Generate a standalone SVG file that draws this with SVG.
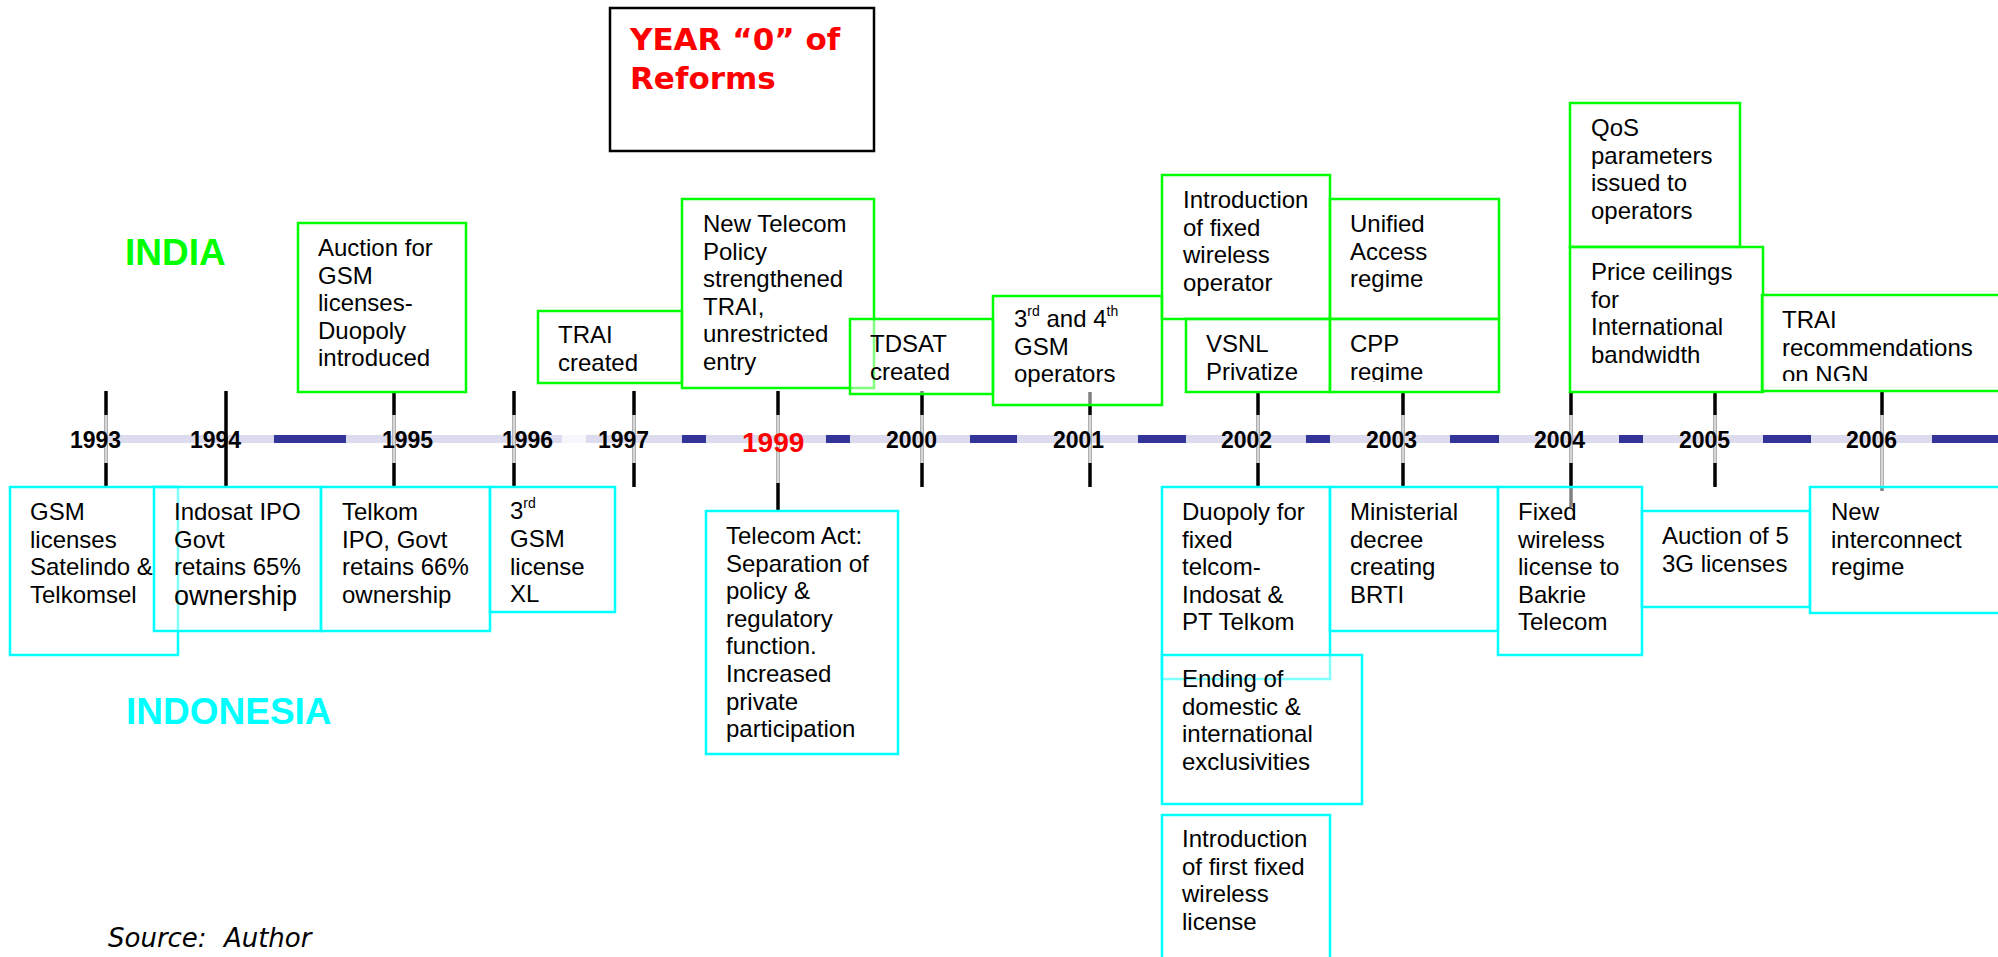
<svg xmlns="http://www.w3.org/2000/svg" width="1998" height="957" viewBox="0 0 1998 957">
<style>
.g{fill:#fff;fill-opacity:0.5;stroke:#00ff00;stroke-width:2.5}
.c{fill:#fff;fill-opacity:0.5;stroke:#00ffff;stroke-width:2.5}
.t{font-family:"Liberation Sans",Arial,sans-serif;font-size:24px;fill:#000}
.yr{font-family:"Liberation Sans",Arial,sans-serif;font-size:23px;font-weight:bold;fill:#000}
.tk{stroke:#000;stroke-width:3.5}
.tg{stroke:#d6d6d6;stroke-width:3.5}
.dash{fill:#333399}
.sup{font-size:14px}
</style>
<defs>
<clipPath id="clipCpp"><rect x="1330" y="319" width="170" height="63"/></clipPath>
<clipPath id="clipNgn"><rect x="1762" y="295" width="240" height="86"/></clipPath>
</defs>
<rect x="0" y="0" width="1998" height="957" fill="#fff"/>

<g id="timeline">
<rect x="106" y="435" width="1892" height="8" fill="#dcdcee"/>
<rect x="562" y="435" width="24" height="8" fill="#f7f7fb"/>
<rect class="dash" x="274" y="435" width="72" height="8"/>
<rect class="dash" x="682" y="435" width="24" height="8"/>
<rect class="dash" x="826" y="435" width="24" height="8"/>
<rect class="dash" x="970" y="435" width="47" height="8"/>
<rect class="dash" x="1138" y="435" width="48" height="8"/>
<rect class="dash" x="1306" y="435" width="24" height="8"/>
<rect class="dash" x="1450" y="435" width="49" height="8"/>
<rect class="dash" x="1619" y="435" width="24" height="8"/>
<rect class="dash" x="1763" y="435" width="48" height="8"/>
<rect class="dash" x="1932" y="435" width="66" height="8"/>
</g>

<g id="connectors">
<line class="tk" x1="106" y1="391" x2="106" y2="487"/><line class="tg" x1="106" y1="415" x2="106" y2="463"/>
<line class="tk" x1="394" y1="391" x2="394" y2="487"/><line class="tg" x1="394" y1="415" x2="394" y2="463"/>
<line class="tk" x1="514" y1="391" x2="514" y2="487"/><line class="tg" x1="514" y1="415" x2="514" y2="463"/>
<line class="tk" x1="634" y1="391" x2="634" y2="487"/><line class="tg" x1="634" y1="415" x2="634" y2="463"/>
<line class="tk" x1="778" y1="391" x2="778" y2="511"/><line class="tg" x1="778" y1="415" x2="778" y2="483"/>
<line class="tk" x1="922" y1="391" x2="922" y2="487"/><line class="tg" x1="922" y1="415" x2="922" y2="463"/>
<line class="tk" x1="1090" y1="392" x2="1090" y2="487"/><line class="tg" x1="1090" y1="415" x2="1090" y2="463"/>
<line class="tk" x1="1258" y1="391" x2="1258" y2="487"/><line class="tg" x1="1258" y1="415" x2="1258" y2="463"/>
<line class="tk" x1="1403" y1="391" x2="1403" y2="487"/><line class="tg" x1="1403" y1="415" x2="1403" y2="463"/>
<line class="tk" x1="1571" y1="391" x2="1571" y2="507"/><line class="tg" x1="1571" y1="415" x2="1571" y2="463"/>
<line class="tk" x1="1715" y1="391" x2="1715" y2="487"/><line class="tg" x1="1715" y1="415" x2="1715" y2="463"/>
<line class="tk" x1="1882" y1="391" x2="1882" y2="491"/><line class="tg" x1="1882" y1="415" x2="1882" y2="487"/>
</g>

<g id="years">
<text class="yr" x="70" y="448">1993</text>
<text class="yr" x="190" y="448">1994</text>
<text class="yr" x="382" y="448">1995</text>
<text class="yr" x="502" y="448">1996</text>
<text class="yr" x="598" y="448">1997</text>
<text class="yr" x="742" y="452" style="font-size:28px;fill:#ff0000">1999</text>
<text class="yr" x="886" y="448">2000</text>
<text class="yr" x="1053" y="448">2001</text>
<text class="yr" x="1221" y="448">2002</text>
<text class="yr" x="1366" y="448">2003</text>
<text class="yr" x="1534" y="448">2004</text>
<text class="yr" x="1679" y="448">2005</text>
<text class="yr" x="1846" y="448">2006</text>
</g>
<line class="tk" x1="226" y1="391" x2="226" y2="487"/>

<g id="year0">
<rect x="610" y="8" width="264" height="143" fill="#fff" stroke="#000" stroke-width="2.5"/>
<text x="630" y="50" font-family="'DejaVu Sans',Verdana,sans-serif" font-weight="bold" font-size="31" fill="#ff0000">YEAR “0” of</text>
<text x="630" y="89" font-family="'DejaVu Sans',Verdana,sans-serif" font-weight="bold" font-size="31" fill="#ff0000">Reforms</text>
</g>

<g id="labels">
<text x="125" y="265" font-family="'Liberation Sans',Arial,sans-serif" font-weight="bold" font-size="37" fill="#00ff00">INDIA</text>
<text x="126" y="724" font-family="'Liberation Sans',Arial,sans-serif" font-weight="bold" font-size="37" fill="#00ffff">INDONESIA</text>
<text x="108" y="947" font-family="'DejaVu Sans',Verdana,sans-serif" font-style="italic" font-size="26" word-spacing="9" fill="#000">Source: Author</text>
</g>

<g id="n-auction">
<rect class="g" x="298" y="223" width="168" height="169"/>
<text class="t"><tspan x="318" y="256">Auction for</tspan><tspan x="318" y="283.6">GSM</tspan><tspan x="318" y="311.2">licenses-</tspan><tspan x="318" y="338.8">Duopoly</tspan><tspan x="318" y="366.4">introduced</tspan></text>
</g>
<g id="n-trai">
<rect class="g" x="538" y="311" width="144" height="72"/>
<text class="t"><tspan x="558" y="343">TRAI</tspan><tspan x="558" y="371">created</tspan></text>
</g>
<g id="n-ntp">
<rect class="g" x="682" y="199" width="192" height="189"/>
<text class="t"><tspan x="703" y="232">New Telecom</tspan><tspan x="703" y="259.6">Policy</tspan><tspan x="703" y="287.2">strengthened</tspan><tspan x="703" y="314.8">TRAI,</tspan><tspan x="703" y="342.4">unrestricted</tspan><tspan x="703" y="370">entry</tspan></text>
</g>
<g id="n-tdsat">
<rect class="g" x="850" y="319" width="143" height="75"/>
<text class="t"><tspan x="870" y="352">TDSAT</tspan><tspan x="870" y="380">created</tspan></text>
</g>
<g id="n-gsm34">
<rect class="g" x="993" y="296" width="169" height="109"/>
<text class="t"><tspan x="1014" y="327">3</tspan><tspan class="sup" dy="-11">rd</tspan><tspan dy="11"> and 4</tspan><tspan class="sup" dy="-11">th</tspan><tspan x="1014" y="355">GSM</tspan><tspan x="1014" y="382">operators</tspan></text>
</g>
<g id="n-fixedwl">
<rect class="g" x="1162" y="175" width="168" height="144"/>
<text class="t"><tspan x="1183" y="208">Introduction</tspan><tspan x="1183" y="235.6">of fixed</tspan><tspan x="1183" y="263.2">wireless</tspan><tspan x="1183" y="290.8">operator</tspan></text>
</g>
<g id="n-vsnl">
<rect class="g" x="1186" y="319" width="144" height="73"/>
<text class="t"><tspan x="1206" y="352">VSNL</tspan><tspan x="1206" y="380">Privatize</tspan></text>
</g>
<g id="n-unified">
<rect class="g" x="1330" y="199" width="169" height="120"/>
<text class="t"><tspan x="1350" y="232">Unified</tspan><tspan x="1350" y="259.6">Access</tspan><tspan x="1350" y="287.2">regime</tspan></text>
</g>
<g id="n-cpp">
<rect class="g" x="1330" y="319" width="169" height="73"/>
<text class="t" clip-path="url(#clipCpp)"><tspan x="1350" y="352">CPP</tspan><tspan x="1350" y="380">regime</tspan></text>
</g>
<g id="n-qos">
<rect class="g" x="1570" y="103" width="170" height="144"/>
<text class="t"><tspan x="1591" y="136">QoS</tspan><tspan x="1591" y="163.6">parameters</tspan><tspan x="1591" y="191.2">issued to</tspan><tspan x="1591" y="218.8">operators</tspan></text>
</g>
<g id="n-price">
<rect class="g" x="1570" y="247" width="193" height="145"/>
<text class="t"><tspan x="1591" y="280">Price ceilings</tspan><tspan x="1591" y="307.6">for</tspan><tspan x="1591" y="335.2">International</tspan><tspan x="1591" y="362.8">bandwidth</tspan></text>
</g>
<g id="n-ngn">
<rect class="g" x="1762" y="295" width="250" height="96"/>
<text class="t" clip-path="url(#clipNgn)"><tspan x="1782" y="328">TRAI</tspan><tspan x="1782" y="355.6">recommendations</tspan><tspan x="1782" y="383.2">on NGN</tspan></text>
</g>

<g id="n-gsm93">
<rect class="c" x="10" y="487" width="168" height="168"/>
<text class="t"><tspan x="30" y="520">GSM</tspan><tspan x="30" y="547.6">licenses</tspan><tspan x="30" y="575.2">Satelindo &amp;</tspan><tspan x="30" y="602.8">Telkomsel</tspan></text>
</g>
<g id="n-indosat">
<rect class="c" x="154" y="487" width="167" height="144"/>
<text class="t"><tspan x="174" y="520">Indosat IPO</tspan><tspan x="174" y="547.6">Govt</tspan><tspan x="174" y="575.2">retains 65%</tspan><tspan x="174" y="604.5" style="font-size:27px">ownership</tspan></text>
</g>
<g id="n-telkom">
<rect class="c" x="321" y="487" width="169" height="144"/>
<text class="t"><tspan x="342" y="520">Telkom</tspan><tspan x="342" y="547.6">IPO, Govt</tspan><tspan x="342" y="575.2">retains 66%</tspan><tspan x="342" y="602.8">ownership</tspan></text>
</g>
<g id="n-gsm3rd">
<rect class="c" x="490" y="487" width="125" height="125"/>
<text class="t"><tspan x="510" y="519">3</tspan><tspan class="sup" dy="-11">rd</tspan><tspan x="510" y="547">GSM</tspan><tspan x="510" y="574.6">license</tspan><tspan x="510" y="602.2">XL</tspan></text>
</g>
<g id="n-telecomact">
<rect class="c" x="706" y="511" width="192" height="243"/>
<text class="t"><tspan x="726" y="544">Telecom Act:</tspan><tspan x="726" y="571.6">Separation of</tspan><tspan x="726" y="599.2">policy &amp;</tspan><tspan x="726" y="626.8">regulatory</tspan><tspan x="726" y="654.4">function.</tspan><tspan x="726" y="682">Increased</tspan><tspan x="726" y="709.6">private</tspan><tspan x="726" y="737.2">participation</tspan></text>
</g>
<g id="n-duopoly">
<rect class="c" x="1162" y="487" width="168" height="192"/>
<text class="t"><tspan x="1182" y="520">Duopoly for</tspan><tspan x="1182" y="547.6">fixed</tspan><tspan x="1182" y="575.2">telcom-</tspan><tspan x="1182" y="602.8">Indosat &amp;</tspan><tspan x="1182" y="630.4">PT Telkom</tspan></text>
</g>
<g id="n-ending">
<rect class="c" x="1162" y="655" width="200" height="149"/>
<text class="t"><tspan x="1182" y="687">Ending of</tspan><tspan x="1182" y="714.6">domestic &amp;</tspan><tspan x="1182" y="742.2">international</tspan><tspan x="1182" y="769.8">exclusivities</tspan></text>
</g>
<g id="n-introfirst">
<rect class="c" x="1162" y="815" width="168" height="150"/>
<text class="t"><tspan x="1182" y="847">Introduction</tspan><tspan x="1182" y="874.6">of first fixed</tspan><tspan x="1182" y="902.2">wireless</tspan><tspan x="1182" y="929.8">license</tspan></text>
</g>
<g id="n-ministerial">
<rect class="c" x="1330" y="487" width="168" height="144"/>
<text class="t"><tspan x="1350" y="520">Ministerial</tspan><tspan x="1350" y="547.6">decree</tspan><tspan x="1350" y="575.2">creating</tspan><tspan x="1350" y="602.8">BRTI</tspan></text>
</g>
<g id="n-bakrie">
<rect class="c" x="1498" y="487" width="144" height="168"/>
<text class="t"><tspan x="1518" y="520">Fixed</tspan><tspan x="1518" y="547.6">wireless</tspan><tspan x="1518" y="575.2">license to</tspan><tspan x="1518" y="602.8">Bakrie</tspan><tspan x="1518" y="630.4">Telecom</tspan></text>
</g>
<g id="n-auction5">
<rect class="c" x="1642" y="511" width="168" height="96"/>
<text class="t"><tspan x="1662" y="544">Auction of 5</tspan><tspan x="1662" y="571.6">3G licenses</tspan></text>
</g>
<g id="n-newinter">
<rect class="c" x="1810" y="487" width="200" height="126"/>
<text class="t"><tspan x="1831" y="520">New</tspan><tspan x="1831" y="547.6">interconnect</tspan><tspan x="1831" y="575.2">regime</tspan></text>
</g>
</svg>
